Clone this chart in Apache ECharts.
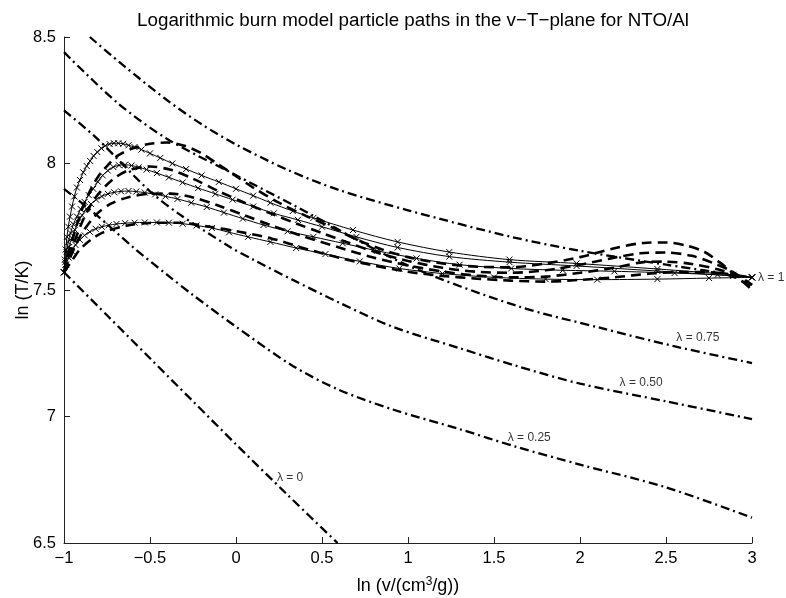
<!DOCTYPE html>
<html>
<head>
<meta charset="utf-8">
<title>NTO/Al particle paths</title>
<script src="https://cdn.jsdelivr.net/npm/echarts@6/dist/echarts.min.js"></script>
<style>
  html, body { margin: 0; padding: 0; background: #fff; }
  #main { width: 786px; height: 598px; }
</style>
</head>
<body>
<div id="main"></div>
<script>
// axis ticks
var xTicks = [-1, -0.5, 0, 0.5, 1, 1.5, 2, 2.5, 3];
var yTicks = [6.5, 7, 7.5, 8, 8.5];

// particle paths, thin line with x markers  [ln v, ln T]
var path1 = [[-1,7.57],[-0.995,7.62],[-0.99,7.66],[-0.983,7.71],[-0.975,7.75],[-0.965,7.79],[-0.953,7.83],[-0.94,7.87],[-0.925,7.905],[-0.907,7.935],[-0.888,7.965],[-0.868,7.99],[-0.848,8.01],[-0.828,8.03],[-0.806,8.045],[-0.783,8.06],[-0.76,8.07],[-0.735,8.077],[-0.71,8.08],[-0.684,8.08],[-0.656,8.078],[-0.625,8.072],[-0.59,8.065],[-0.55,8.055],[-0.5,8.04],[-0.44,8.022],[-0.37,8.0],[-0.29,7.978],[-0.2,7.953],[-0.1,7.927],[0,7.9],[0.1,7.873],[0.2,7.845],[0.33,7.812],[0.45,7.785],[0.68,7.737],[0.94,7.69],[1.24,7.65],[1.59,7.62],[1.98,7.605],[2.45,7.583],[2.89,7.56],[3,7.55]];
var path2 = [[-1,7.57],[-0.993,7.61],[-0.985,7.65],[-0.975,7.69],[-0.962,7.725],[-0.945,7.76],[-0.925,7.79],[-0.903,7.82],[-0.88,7.848],[-0.856,7.875],[-0.83,7.9],[-0.803,7.928],[-0.775,7.953],[-0.745,7.972],[-0.713,7.986],[-0.68,7.993],[-0.645,7.995],[-0.607,7.992],[-0.565,7.985],[-0.52,7.976],[-0.46,7.962],[-0.39,7.945],[-0.31,7.925],[-0.22,7.903],[-0.12,7.88],[-0.02,7.857],[0.1,7.83],[0.22,7.803],[0.36,7.777],[0.5,7.75],[0.7,7.71],[0.94,7.668],[1.24,7.632],[1.59,7.61],[1.98,7.595],[2.45,7.575],[2.89,7.556],[3,7.55]];
var path3 = [[-1,7.57],[-0.992,7.6],[-0.982,7.635],[-0.97,7.67],[-0.955,7.705],[-0.937,7.738],[-0.917,7.768],[-0.895,7.795],[-0.87,7.82],[-0.843,7.84],[-0.813,7.857],[-0.78,7.87],[-0.745,7.88],[-0.708,7.886],[-0.668,7.89],[-0.625,7.891],[-0.58,7.889],[-0.53,7.885],[-0.47,7.878],[-0.41,7.87],[-0.34,7.86],[-0.26,7.845],[-0.17,7.828],[-0.07,7.806],[0.04,7.782],[0.16,7.757],[0.3,7.732],[0.45,7.71],[0.62,7.685],[0.82,7.655],[1.05,7.625],[1.3,7.6],[1.6,7.585],[1.9,7.578],[2.2,7.574],[2.55,7.567],[2.8,7.56],[3,7.55]];
var path4 = [[-1,7.57],[-0.988,7.6],[-0.973,7.628],[-0.955,7.654],[-0.933,7.678],[-0.908,7.698],[-0.88,7.716],[-0.85,7.73],[-0.816,7.742],[-0.78,7.75],[-0.74,7.756],[-0.695,7.761],[-0.645,7.764],[-0.59,7.766],[-0.53,7.767],[-0.46,7.767],[-0.39,7.766],[-0.31,7.762],[-0.23,7.755],[-0.14,7.745],[-0.04,7.728],[0.07,7.71],[0.2,7.69],[0.35,7.666],[0.52,7.642],[0.72,7.613],[0.95,7.585],[1.2,7.565],[1.5,7.55],[1.8,7.543],[2.1,7.541],[2.45,7.543],[2.75,7.547],[3,7.55]];

// second set of paths, thick dashed
var dash1 = [[-1,7.57],[-0.95,7.7],[-0.9,7.81],[-0.85,7.89],[-0.8,7.95],[-0.75,7.99],[-0.69,8.03],[-0.6,8.06],[-0.5,8.078],[-0.4,8.083],[-0.3,8.07],[-0.2,8.04],[-0.1,7.995],[0,7.95],[0.1,7.905],[0.25,7.845],[0.4,7.795],[0.55,7.75],[0.7,7.7],[0.85,7.66],[1.0,7.63],[1.2,7.605],[1.4,7.592],[1.6,7.59],[1.8,7.605],[2.0,7.63],[2.2,7.665],[2.37,7.686],[2.5,7.688],[2.62,7.675],[2.72,7.652],[2.81,7.61],[2.89,7.567],[3,7.5]];
var dash2 = [[-1,7.57],[-0.95,7.67],[-0.9,7.76],[-0.85,7.83],[-0.8,7.88],[-0.72,7.935],[-0.63,7.972],[-0.5,7.988],[-0.38,7.975],[-0.25,7.94],[-0.1,7.89],[0.05,7.845],[0.2,7.803],[0.35,7.763],[0.5,7.725],[0.65,7.688],[0.8,7.652],[1.0,7.615],[1.2,7.588],[1.4,7.572],[1.6,7.568],[1.8,7.578],[2.0,7.6],[2.2,7.628],[2.35,7.645],[2.5,7.648],[2.65,7.635],[2.78,7.605],[2.88,7.575],[3,7.52]];
var dash3 = [[-1,7.57],[-0.95,7.65],[-0.9,7.72],[-0.81,7.8],[-0.73,7.84],[-0.63,7.866],[-0.5,7.88],[-0.38,7.881],[-0.25,7.866],[-0.1,7.833],[0.05,7.795],[0.2,7.757],[0.4,7.71],[0.6,7.668],[0.8,7.628],[1.0,7.597],[1.2,7.573],[1.4,7.557],[1.6,7.55],[1.8,7.553],[2.0,7.568],[2.2,7.588],[2.37,7.61],[2.5,7.612],[2.65,7.603],[2.8,7.582],[2.9,7.56],[3,7.52]];
var dash4 = [[-1,7.57],[-0.95,7.62],[-0.9,7.666],[-0.79,7.722],[-0.63,7.755],[-0.5,7.765],[-0.34,7.766],[-0.15,7.75],[0.02,7.73],[0.2,7.705],[0.4,7.664],[0.6,7.627],[0.8,7.597],[1.0,7.572],[1.2,7.556],[1.4,7.545],[1.6,7.537],[1.8,7.533],[2.0,7.54],[2.2,7.55],[2.41,7.565],[2.6,7.571],[2.8,7.568],[2.9,7.55],[3,7.51]];

// constant lambda lines, dash-dot
var lam0 = [[-1,7.57],[-0.75,7.4],[-0.5,7.23],[-0.25,7.06],[0,6.89],[0.3,6.69],[0.59,6.5]];
var lam25 = [[-1,7.9],[-0.8,7.79],[-0.6,7.67],[-0.4,7.56],[-0.25,7.48],[0,7.355],[0.33,7.2],[0.6,7.105],[0.91,7.028],[1.3,6.95],[1.63,6.88],[2.0,6.81],[2.5,6.72],[3,6.6]];
var lam50 = [[-1,8.21],[-0.81,8.1],[-0.5,7.89],[-0.33,7.8],[-0.035,7.67],[0.1,7.62],[0.33,7.54],[0.6,7.45],[0.91,7.355],[1.3,7.27],[1.63,7.2],[2.0,7.13],[2.5,7.06],[3,6.99]];
var lam75 = [[-1,8.44],[-0.69,8.24],[-0.4,8.097],[-0.035,7.966],[0.355,7.828],[0.99,7.6],[1.634,7.437],[2.12,7.35],[2.54,7.279],[3,7.211]];
var lam100 = [[-0.85,8.5],[-0.65,8.385],[-0.4,8.25],[-0.2,8.155],[0,8.075],[0.3,7.975],[0.6,7.895],[1.0,7.815],[1.6,7.71],[2.0,7.655],[2.5,7.6],[3.0,7.55]];

// line labels
var lamNames = ['λ = 1', 'λ = 0.75', 'λ = 0.50', 'λ = 0.25', 'λ = 0'];
var lamLabelAt = [[3, 7.55], [2.56, 7.31], [2.23, 7.132], [1.58, 6.915], [0.238, 6.757]];

var font = 'Liberation Sans, Arial, Helvetica, sans-serif';
var minus = function (v) { return String(v).replace('-', '\u2212'); };

var chart = echarts.init(document.getElementById('main'));

function markerLine(data) {
  return {
    type: 'line', data: data, smooth: 0.3,
    symbol: 'path://M0,0L10,10M10,0L0,10', symbolSize: 6, showAllSymbol: true,
    lineStyle: { color: '#000', width: 1 },
    itemStyle: { color: '#000', borderColor: '#000', borderWidth: 1 },
    z: 3
  };
}
function dashLine(data) {
  return {
    type: 'line', data: data, smooth: 0.3, symbol: 'none',
    lineStyle: { color: '#000', width: 2.6, type: [10, 6] },
    z: 2
  };
}
function lamLine(data) {
  return {
    type: 'line', data: data, smooth: 0.3, symbol: 'none',
    lineStyle: { color: '#000', width: 2.3, type: [9, 4, 2, 4] },
    z: 2
  };
}

var series = [
  lamLine(lam0), lamLine(lam25), lamLine(lam50), lamLine(lam75), lamLine(lam100),
  dashLine(dash1), dashLine(dash2), dashLine(dash3), dashLine(dash4),
  markerLine(path1), markerLine(path2), markerLine(path3), markerLine(path4)
];

// text next to the lambda lines
series.push({
  type: 'scatter', symbolSize: 0, z: 5, clip: false,
  data: lamLabelAt.map(function (p, i) { return { value: p, name: lamNames[i] }; }),
  label: {
    show: true, position: 'right', distance: 0,
    formatter: function (p) { return p.name; },
    color: '#000', fontSize: 12, fontFamily: font
  }
});
series[series.length - 1].data[0].label = { distance: 6 };

var option = {
  animation: false,
  backgroundColor: '#fff',
  title: {
    text: 'Logarithmic burn model particle paths in the v\u2212T\u2212plane for NTO/Al',
    left: 408, top: 6, textAlign: 'center',
    textStyle: { fontFamily: font, fontSize: 18.8, fontWeight: 'normal', color: '#000' }
  },
  // fixed plot box, no auto shrinking for labels
  grid: { left: 64, right: 34, top: 37, bottom: 55, containLabel: false, outerBoundsMode: 'none' },
  xAxis: {
    type: 'value', min: xTicks[0], max: xTicks[xTicks.length - 1], interval: 0.5,
    name: 'ln (v/(cm{sup|3}/g))', nameLocation: 'middle', nameGap: 33, nameMoveOverlap: false,
    nameTextStyle: {
      fontFamily: font, fontSize: 18, color: '#000',
      rich: { sup: { fontFamily: font, fontSize: 12, color: '#000', verticalAlign: 'top', padding: [0, 0, 9, 0] } }
    },
    axisLine: { onZero: false, lineStyle: { color: '#222', width: 1 } },
    axisTick: { inside: true, length: 6, lineStyle: { color: '#222' } },
    axisLabel: { color: '#000', fontFamily: font, fontSize: 16.5, margin: 7, formatter: minus },
    splitLine: { show: false }
  },
  yAxis: {
    type: 'value', min: yTicks[0], max: yTicks[yTicks.length - 1], interval: 0.5,
    name: 'ln (T/K)', nameLocation: 'middle', nameGap: 32, nameRotate: 90, nameMoveOverlap: false,
    nameTextStyle: { fontFamily: font, fontSize: 18, color: '#000' },
    axisLine: { show: true, onZero: false, lineStyle: { color: '#222', width: 1 } },
    axisTick: { show: true, inside: true, length: 6, lineStyle: { color: '#222' } },
    axisLabel: { color: '#000', fontFamily: font, fontSize: 16.5, margin: 8, formatter: minus },
    splitLine: { show: false }
  },
  series: series
};

chart.setOption(option);
</script>
</body>
</html>
